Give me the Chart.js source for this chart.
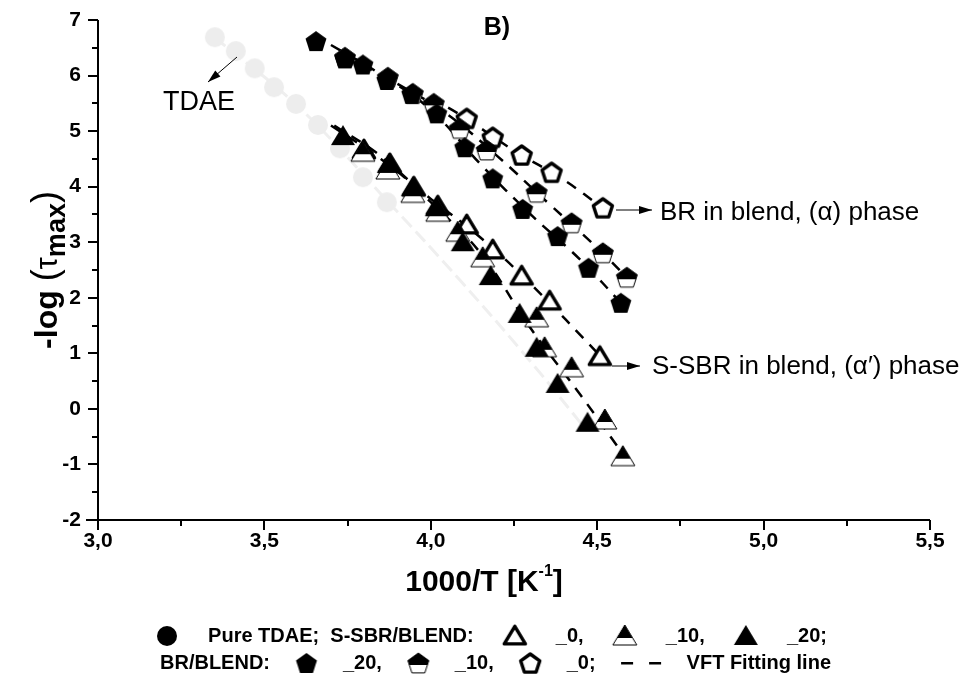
<!DOCTYPE html>
<html>
<head>
<meta charset="utf-8">
<script src="https://cdn.jsdelivr.net/npm/chart.js@4.4.0/dist/chart.umd.min.js"></script>
<style>
  body { margin: 0; background: #fff; }
  #wrap { width: 971px; height: 677px; }
</style>
</head>
<body>
<div id="wrap"><canvas id="vftChart" width="971" height="677"></canvas></div>
<script>
// data: x = 1000/T, y = -log(tau_max)
const tdaeX = [3.351, 3.414, 3.471, 3.529, 3.595, 3.661, 3.727, 3.796, 3.868];
const tdaeY = [6.69, 6.44, 6.13, 5.79, 5.49, 5.11, 4.69, 4.17, 3.72];

const sbr0X = [3.799, 3.877, 3.949, 4.021, 4.108, 4.186, 4.273, 4.357, 4.508];
const sbr0Y = [4.66, 4.41, 3.99, 3.65, 3.31, 2.86, 2.39, 1.94, 0.94];
const sbr10X = [3.796, 3.871, 3.946, 4.021, 4.081, 4.156, 4.318, 4.342, 4.423, 4.523, 4.577];
const sbr10Y = [4.62, 4.30, 3.88, 3.54, 3.18, 2.72, 1.64, 1.10, 0.74, -0.20, -0.86];
const sbr20X = [3.736, 3.874, 3.946, 4.018, 4.096, 4.180, 4.267, 4.318, 4.381, 4.471];
const sbr20Y = [4.91, 4.41, 3.99, 3.63, 3.00, 2.39, 1.71, 1.10, 0.45, -0.25];

const br20X = [3.655, 3.742, 3.796, 3.868, 3.943, 4.018, 4.102, 4.186, 4.276, 4.381, 4.474, 4.571];
const br20Y = [6.62, 6.31, 6.20, 5.92, 5.67, 5.32, 4.71, 4.15, 3.60, 3.11, 2.54, 1.91];
const br10X = [3.742, 3.871, 3.946, 4.009, 4.087, 4.168, 4.318, 4.423, 4.517, 4.589];
const br10Y = [6.33, 5.97, 5.68, 5.50, 5.05, 4.66, 3.90, 3.35, 2.81, 2.37];
const br0X = [4.108, 4.186, 4.273, 4.363, 4.517];
const br0Y = [5.23, 4.89, 4.57, 4.26, 3.62];

// VFT fitting lines, traced along the dashes
const tdaeFitX = [3.35, 3.60, 3.87, 4.09, 4.30, 4.47];
const tdaeFitY = [6.69, 5.45, 3.74, 2.30, 0.85, -0.40];
const brFit20X = [3.70, 3.85, 4.00, 4.15, 4.30, 4.45, 4.58];
const brFit20Y = [6.55, 6.02, 5.38, 4.40, 3.50, 2.68, 1.85];
const brFit10X = [3.74, 3.90, 4.05, 4.20, 4.35, 4.50, 4.60];
const brFit10Y = [6.35, 5.85, 5.30, 4.55, 3.72, 2.90, 2.30];
const brFit0X = [4.00, 4.10, 4.25, 4.40, 4.52];
const brFit0Y = [5.60, 5.25, 4.65, 4.12, 3.60];
const sbrFit0X = [3.70, 3.85, 4.00, 4.15, 4.30, 4.51];
const sbrFit0Y = [5.10, 4.50, 3.78, 3.08, 2.25, 0.95];
const sbrFit20X = [3.71, 3.85, 4.00, 4.15, 4.30, 4.45, 4.59];
const sbrFit20Y = [5.10, 4.55, 3.72, 2.80, 1.45, 0.25, -0.92];

const xTicks = [3.0, 3.5, 4.0, 4.5, 5.0, 5.5];
const yTicks = [-2, -1, 0, 1, 2, 3, 4, 5, 6, 7];

const pts = (xs, ys) => xs.map((x, i) => ({ x: x, y: ys[i] }));

// marker glyphs drawn once into small canvases
function makeSym(kind, fill) {
  const c = document.createElement('canvas');
  c.width = 32; c.height = 32;
  const g = c.getContext('2d');
  const cx = 16, cy = 16;
  let p = [];
  if (kind === 'circle') {
    g.beginPath(); g.arc(cx, cy, 10, 0, Math.PI * 2);
    g.fillStyle = fill; g.fill();
    return c;
  }
  if (kind === 'pent') {
    const r = fill === 'open' ? 10 : 11;
    for (let i = 0; i < 5; i++) {
      const a = -Math.PI / 2 + i * 2 * Math.PI / 5;
      p.push([cx + r * Math.cos(a), cy + 1 + r * Math.sin(a)]);
    }
  } else {
    const s = fill === 'open' ? 0.88 : 1;
    p = [[cx, cy - 11 * s], [cx + 12 * s, cy + 9 * s], [cx - 12 * s, cy + 9 * s]];
  }
  const path = () => {
    g.beginPath();
    p.forEach((q, i) => i ? g.lineTo(q[0], q[1]) : g.moveTo(q[0], q[1]));
    g.closePath();
  };
  if (fill === 'full') {
    path(); g.fillStyle = '#000'; g.fill();
  } else if (fill === 'open') {
    path(); g.fillStyle = '#fff'; g.fill();
    g.lineWidth = 3.4; g.strokeStyle = '#000'; g.lineJoin = 'round'; g.stroke();
  } else {
    path(); g.fillStyle = '#fff'; g.fill();
    g.lineWidth = 1; g.strokeStyle = '#000'; g.stroke();
    g.save(); path(); g.clip();
    g.fillStyle = '#000'; g.fillRect(0, 0, 32, cy + 2);
    g.restore();
  }
  return c;
}

const symTdae = makeSym('circle', '#ededed');
const symDot = makeSym('circle', '#000');
const symTri0 = makeSym('tri', 'open');
const symTri10 = makeSym('tri', 'half');
const symTri20 = makeSym('tri', 'full');
const symPent0 = makeSym('pent', 'open');
const symPent10 = makeSym('pent', 'half');
const symPent20 = makeSym('pent', 'full');

function markers(data, sym, order) {
  return { data: data, showLine: false, pointStyle: sym, pointRadius: 10, pointHoverRadius: 10, order: order };
}
function fitLine(data, color, width, dash, order) {
  return {
    data: data, showLine: true, pointRadius: 0, borderColor: color, borderWidth: width,
    borderDash: dash, tension: 0.4, fill: false, order: order
  };
}

const FONT = "'Liberation Sans', Arial, sans-serif";

// axis lines, major/minor tick marks and tick labels
const axisDecor = {
  id: 'axisDecor',
  afterDraw(chart) {
    const { ctx, chartArea: a, scales: { x, y } } = chart;
    ctx.save();
    ctx.strokeStyle = '#000';
    ctx.lineWidth = 2;
    ctx.beginPath();
    ctx.moveTo(a.left - 12, a.bottom); ctx.lineTo(a.right, a.bottom);
    ctx.moveTo(a.left, a.top); ctx.lineTo(a.left, a.bottom + 1);
    for (let v = 3; v <= 5.5001; v += 0.25) {
      const px = Math.round(x.getPixelForValue(v));
      const major = Math.abs(v * 2 - Math.round(v * 2)) < 1e-6;
      ctx.moveTo(px, a.bottom); ctx.lineTo(px, a.bottom + (major ? 10 : 6));
    }
    for (let v = -2; v <= 7.0001; v += 0.5) {
      const py = Math.round(y.getPixelForValue(v));
      const major = Math.abs(v - Math.round(v)) < 1e-6;
      ctx.moveTo(a.left, py); ctx.lineTo(a.left - (major ? 10 : 6), py);
    }
    ctx.stroke();

    ctx.fillStyle = '#000';
    ctx.font = 'bold 21px ' + FONT;
    ctx.textAlign = 'center';
    ctx.textBaseline = 'middle';
    xTicks.forEach(v => ctx.fillText(v.toFixed(1).replace('.', ','), x.getPixelForValue(v), a.bottom + 21));
    ctx.textAlign = 'right';
    yTicks.forEach(v => ctx.fillText(String(v), a.left - 17, y.getPixelForValue(v)));
    ctx.restore();
  }
};

function arrow(ctx, x1, y1, x2, y2) {
  const ang = Math.atan2(y2 - y1, x2 - x1);
  ctx.beginPath();
  ctx.moveTo(x1, y1); ctx.lineTo(x2, y2);
  ctx.lineWidth = 1; ctx.strokeStyle = '#000'; ctx.stroke();
  ctx.beginPath();
  ctx.moveTo(x2, y2);
  ctx.lineTo(x2 - 13 * Math.cos(ang) + 4 * Math.sin(ang), y2 - 13 * Math.sin(ang) - 4 * Math.cos(ang));
  ctx.lineTo(x2 - 13 * Math.cos(ang) - 4 * Math.sin(ang), y2 - 13 * Math.sin(ang) + 4 * Math.cos(ang));
  ctx.closePath(); ctx.fillStyle = '#000'; ctx.fill();
}

// spread a legend row between two x limits
function legendRow(ctx, items, x0, x1, y) {
  let total = 0;
  items.forEach(it => {
    it.w = it.text !== undefined ? ctx.measureText(it.text).width : it.w || 22;
    total += it.w;
  });
  const gap = (x1 - x0 - total) / (items.length - 1);
  let x = x0;
  items.forEach(it => {
    if (it.text !== undefined) {
      ctx.fillText(it.text, x, y);
    } else if (it.dash) {
      ctx.fillRect(x, y - 1, 12, 2.5);
      ctx.fillRect(x + it.w - 12, y - 1, 12, 2.5);
    } else {
      ctx.drawImage(it.sym, x + it.w / 2 - 16, y - 16);
    }
    x += it.w + gap;
  });
}

const annotations = {
  id: 'annotations',
  afterDraw(chart) {
    const ctx = chart.ctx;
    ctx.save();
    ctx.fillStyle = '#000';
    ctx.textBaseline = 'middle';

    // panel letter
    ctx.font = 'bold 25px ' + FONT;
    ctx.textAlign = 'center';
    ctx.fillText('B)', 497, 28);

    // labels with arrows
    ctx.textAlign = 'left';
    ctx.font = '27px ' + FONT;
    ctx.fillText('TDAE', 163, 103);
    arrow(ctx, 237, 57, 208, 82);
    ctx.font = '26px ' + FONT;
    ctx.fillText('BR in blend, (\u03B1) phase', 660, 213);
    arrow(ctx, 616, 210, 652, 210);
    ctx.fillText('S-SBR in blend, (\u03B1\u2032) phase', 652, 367);
    arrow(ctx, 612, 366, 640, 366);

    // x axis title
    ctx.textBaseline = 'alphabetic';
    const xt1 = '1000/T [K', xt3 = ']';
    ctx.font = 'bold 30px ' + FONT;
    const w1 = ctx.measureText(xt1).width;
    const w3 = ctx.measureText(xt3).width;
    ctx.font = 'bold 16px ' + FONT;
    const w2 = ctx.measureText('-1').width;
    const sx = 484 - (w1 + w2 + w3) / 2;
    ctx.font = 'bold 30px ' + FONT;
    ctx.fillText(xt1, sx, 591);
    ctx.fillText(xt3, sx + w1 + w2, 591);
    ctx.font = 'bold 16px ' + FONT;
    ctx.fillText('-1', sx + w1, 576);

    // y axis title, rotated
    ctx.save();
    ctx.translate(47, 270);
    ctx.rotate(-Math.PI / 2);
    const parts = [
      { t: '-log ', f: 'bold 32px ' + FONT, dy: 0 },
      { t: '(', f: '36px ' + FONT, dy: 0 },
      { t: '\u03C4', f: '31px ' + FONT, dy: 0 },
      { t: 'max', f: 'bold 27px ' + FONT, dy: 8 },
      { t: ')', f: '36px ' + FONT, dy: 0 }
    ];
    let total = 0;
    parts.forEach(pp => { ctx.font = pp.f; pp.w = ctx.measureText(pp.t).width; total += pp.w; });
    let px = -total / 2;
    parts.forEach(pp => { ctx.font = pp.f; ctx.fillText(pp.t, px, 10 + pp.dy); px += pp.w; });
    ctx.restore();

    // legend, two rows
    ctx.textBaseline = 'middle';
    ctx.font = 'bold 20px ' + FONT;
    legendRow(ctx, [
      { sym: symDot }, { text: 'Pure TDAE;  S-SBR/BLEND:' },
      { sym: symTri0 }, { text: '_0,' }, { sym: symTri10 }, { text: '_10,' },
      { sym: symTri20 }, { text: '_20;' }
    ], 156, 827, 636);
    legendRow(ctx, [
      { text: 'BR/BLEND:' }, { sym: symPent20 }, { text: '_20,' },
      { sym: symPent10 }, { text: '_10,' }, { sym: symPent0 }, { text: '_0;' },
      { dash: true, w: 40 }, { text: 'VFT Fitting line' }
    ], 160, 831, 663);
    ctx.restore();
  }
};

const ctx = document.getElementById('vftChart').getContext('2d');
const vftChart = new Chart(ctx, {
  type: 'scatter',
  data: {
    datasets: [
      fitLine(pts(tdaeFitX, tdaeFitY), '#efefef', 3, [14, 6], 20),
      markers(pts(tdaeX, tdaeY), symTdae, 19),
      fitLine(pts(brFit20X, brFit20Y), '#000', 2.5, [11, 9], 12),
      fitLine(pts(brFit10X, brFit10Y), '#000', 2.5, [11, 9], 12),
      fitLine(pts(brFit0X, brFit0Y), '#000', 2.5, [11, 9], 12),
      fitLine(pts(sbrFit0X, sbrFit0Y), '#000', 2.5, [11, 9], 12),
      fitLine(pts(sbrFit20X, sbrFit20Y), '#000', 2.5, [11, 9], 12),
      markers(pts(sbr0X, sbr0Y), symTri0, 6),
      markers(pts(sbr10X, sbr10Y), symTri10, 5),
      markers(pts(sbr20X, sbr20Y), symTri20, 4),
      markers(pts(br0X, br0Y), symPent0, 3),
      markers(pts(br10X, br10Y), symPent10, 2),
      markers(pts(br20X, br20Y), symPent20, 1)
    ]
  },
  options: {
    responsive: false,
    animation: false,
    layout: { padding: { top: 20, right: 41, bottom: 0, left: 0 } },
    plugins: {
      legend: { display: false },
      tooltip: { enabled: false }
    },
    scales: {
      x: {
        type: 'linear',
        min: 3, max: 5.5,
        afterFit: s => { s.height = 157; },
        ticks: { display: false },
        grid: { display: false },
        border: { display: false }
      },
      y: {
        type: 'linear',
        min: -2, max: 7,
        afterFit: s => { s.width = 98; },
        ticks: { display: false },
        grid: { display: false },
        border: { display: false }
      }
    }
  },
  plugins: [axisDecor, annotations]
});
</script>
</body>
</html>
